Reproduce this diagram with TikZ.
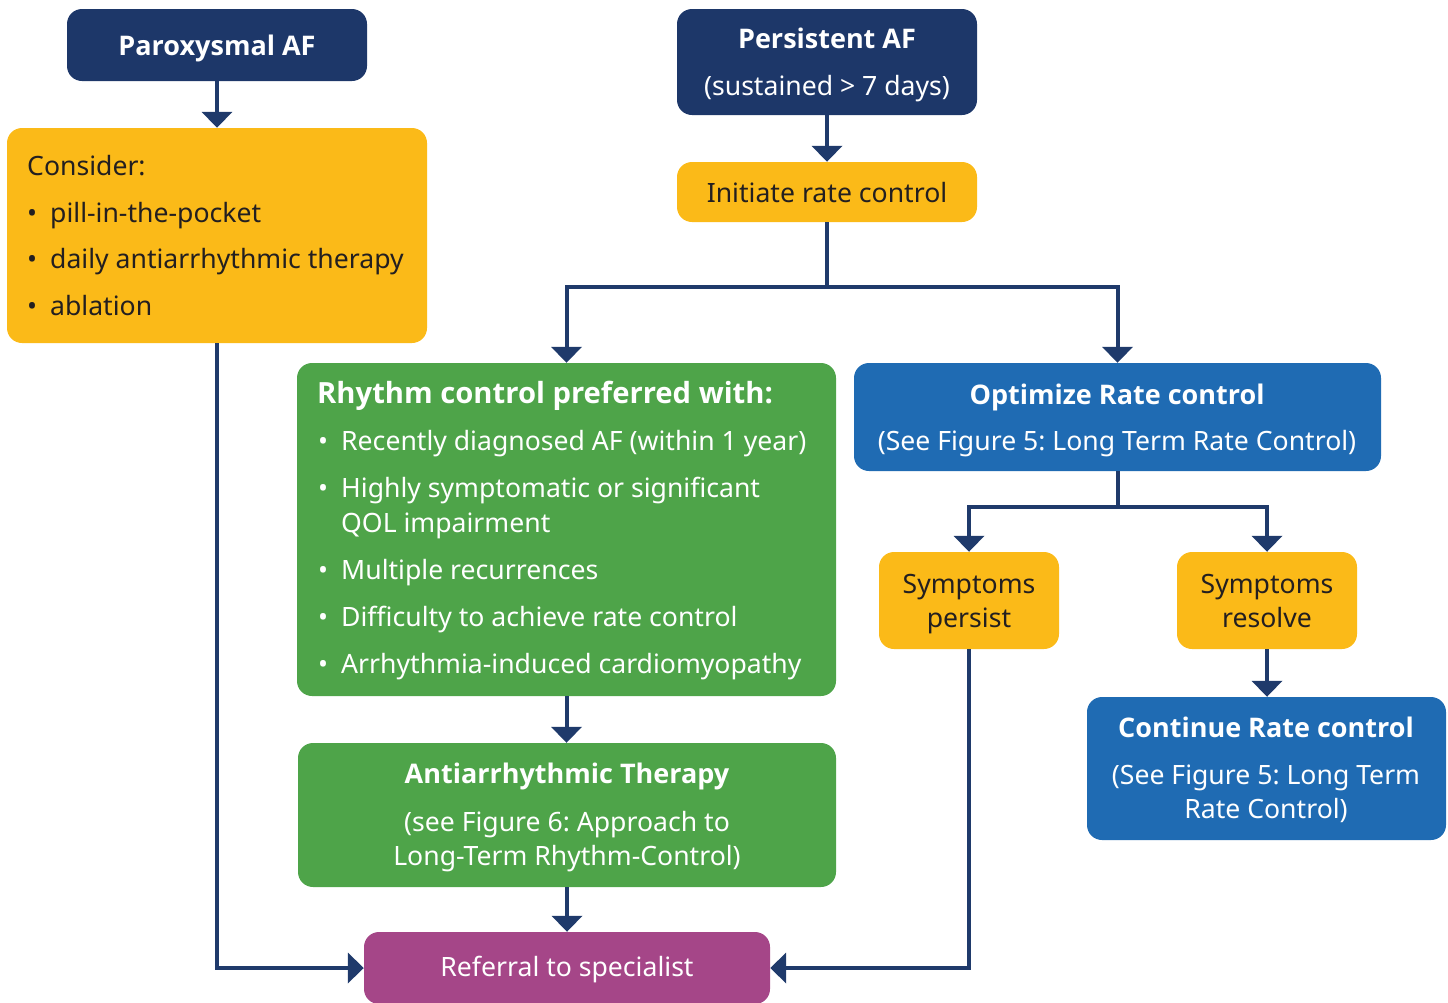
\documentclass[tikz,border=0pt]{standalone}
\usepackage{fontspec}
\setmainfont{Noto Sans}
\newfontfamily\headfont{Open Sans}
\usetikzlibrary{arrows.meta}
\definecolor{navy}{HTML}{1D3769}
\definecolor{linenavy}{HTML}{1F3A6B}
\definecolor{amber}{HTML}{FBBA18}
\definecolor{leaf}{HTML}{4EA449}
\definecolor{ocean}{HTML}{1F6BB3}
\definecolor{plum}{HTML}{A54688}
\definecolor{ink}{HTML}{231F20}
\frenchspacing
\begin{document}
\begin{tikzpicture}[x=1pt,y=-1pt,
  box/.style={rectangle, rounded corners=15pt, inner sep=0pt, draw=none},
  navybox/.style={box, fill=navy},
  amberbox/.style={box, fill=amber},
  leafbox/.style={box, fill=leaf},
  oceanbox/.style={box, fill=ocean},
  plumbox/.style={box, fill=plum},
  txt/.style={inner sep=0pt, font=\fontsize{26.6}{32}\selectfont},
  ctr/.style={txt, anchor=base},
  lft/.style={txt, anchor=base west},
  bold/.style={font=\fontsize{27}{32}\selectfont\headfont\bfseries},
  light/.style={text=white},
  dark/.style={text=ink},
  wire/.style={draw=linenavy, line width=4pt},
  conn/.style={wire, -{Triangle[width=30pt,length=16pt]}}
]
\useasboundingbox (0,0) rectangle (1448,1002);

% ---- boxes ----
\node[navybox, minimum width=300pt, minimum height=72pt] (parox) at (217,45) {};
\node[amberbox, minimum width=420pt, minimum height=215pt] (consider) at (217,235.5) {};
\node[navybox, minimum width=300pt, minimum height=106pt] (persist) at (827,62) {};
\node[amberbox, minimum width=300pt, minimum height=60pt] (initiate) at (827,192) {};
\node[leafbox, minimum width=539pt, minimum height=333pt] (rhythm) at (566.5,529.5) {};
\node[oceanbox, minimum width=527pt, minimum height=108pt] (optimize) at (1117.5,417) {};
\node[amberbox, minimum width=180pt, minimum height=97pt] (spersist) at (969,600.5) {};
\node[amberbox, minimum width=180pt, minimum height=97pt] (sresolve) at (1267,600.5) {};
\node[oceanbox, minimum width=359pt, minimum height=143pt] (continue) at (1266.5,768.5) {};
\node[leafbox, minimum width=538pt, minimum height=144pt] (anti) at (567,815) {};
\node[plumbox, minimum width=406pt, minimum height=72pt] (referral) at (567,968) {};

% ---- texts ----
\node[ctr, bold, light] (paroxT) at (217,55) {Paroxysmal AF};

\node[lft, dark] (consT) at (27,175) {Consider:};
\node[lft, dark] (consA) at (27,222) {\makebox[23pt][l]{•}pill-in-the-pocket};
\node[lft, dark] (consB) at (27,268) {\makebox[23pt][l]{•}daily antiarrhythmic therapy};
\node[lft, dark] (consC) at (27,315) {\makebox[23pt][l]{•}ablation};

\node[ctr, bold, light] (persistT) at (827,48) {Persistent AF};
\node[ctr, light] (persistS) at (827,95) {(sustained > 7 days)};

\node[ctr, dark] (initiateT) at (827,202) {Initiate rate control};

\node[lft, light, font=\fontsize{29.2}{34}\selectfont\headfont\bfseries] (rhythmT) at (317,403) {Rhythm control preferred with:};
\node[lft, light] (rhythmA) at (318,450) {\makebox[23pt][l]{•}Recently diagnosed AF (within 1 year)};
\node[lft, light] (rhythmB) at (318,497) {\makebox[23pt][l]{•}Highly symptomatic or significant};
\node[lft, light] (rhythmB2) at (341,532) {QOL impairment};
\node[lft, light] (rhythmC) at (318,579) {\makebox[23pt][l]{•}Multiple recurrences};
\node[lft, light] (rhythmD) at (318,626) {\makebox[23pt][l]{•}Difficulty to achieve rate control};
\node[lft, light] (rhythmE) at (318,673) {\makebox[23pt][l]{•}Arrhythmia-induced cardiomyopathy};

\node[ctr, bold, light] (optimizeT) at (1117,404) {Optimize Rate control};
\node[ctr, light] (optimizeS) at (1117,450) {(See Figure 5: Long Term Rate Control)};

\node[ctr, dark] (spersistA) at (969,593) {Symptoms};
\node[ctr, dark] (spersistB) at (969,627) {persist};
\node[ctr, dark] (sresolveA) at (1267,593) {Symptoms};
\node[ctr, dark] (sresolveB) at (1267,627) {resolve};

\node[ctr, bold, light] (continueT) at (1266,737) {Continue Rate control};
\node[ctr, light] (continueA) at (1266,784) {(See Figure 5: Long Term};
\node[ctr, light] (continueB) at (1266,818) {Rate Control)};

\node[ctr, bold, light] (antiT) at (567,783) {Antiarrhythmic Therapy};
\node[ctr, light] (antiA) at (567,831) {(see Figure 6: Approach to};
\node[ctr, light] (antiB) at (567,865) {Long-Term Rhythm-Control)};

\node[ctr, light] (referralT) at (567,976) {Referral to specialist};

% ---- connectors ----
\coordinate (split1) at (827,287);
\coordinate (split2) at (1117.5,507);

\draw[conn] (parox.south) -- (consider.north);
\draw[conn] (persist.south) -- (initiate.north);
\draw[wire] (initiate.south) -- (split1);
\draw[conn] (split1) -| (rhythm.north);
\draw[conn] (split1) -| (optimize.north);
\draw[wire] (optimize.south) -- (split2);
\draw[conn] (split2) -| (spersist.north);
\draw[conn] (split2) -| (sresolve.north);
\draw[conn] (sresolve.south) -- (sresolve.south |- continue.north);
\draw[conn] (rhythm.south) -- (rhythm.south |- anti.north);
\draw[conn] (anti.south) -- (referral.north);
\draw[conn] (consider.south) |- (referral.west);
\draw[conn] (spersist.south) |- (referral.east);
\end{tikzpicture}
\end{document}
